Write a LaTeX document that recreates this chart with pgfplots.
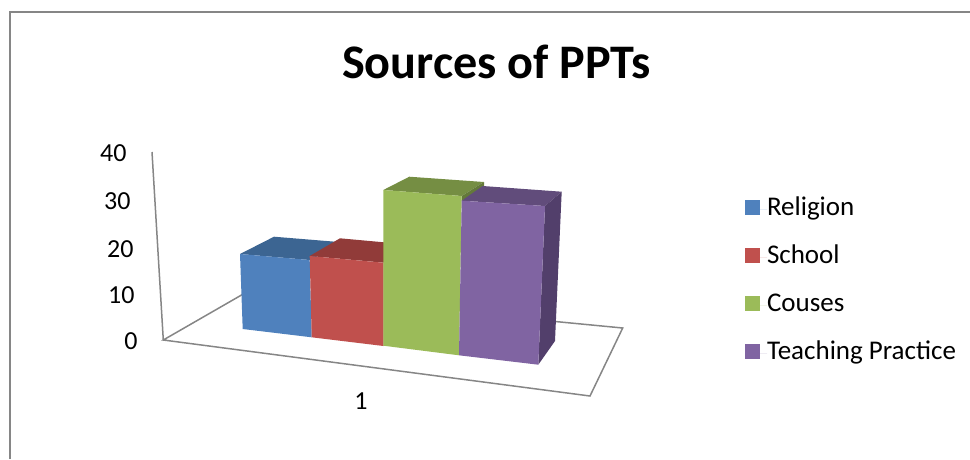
\documentclass[border=0pt]{standalone}
\usepackage{pgfplots}
\pgfplotsset{compat=1.18}
\usepackage{fontspec}
\setmainfont{Carlito}
\definecolor{frameg}{HTML}{868686}
\definecolor{bluef}{HTML}{4F81BD}\definecolor{bluet}{HTML}{3C6592}
\definecolor{redf}{HTML}{C0504D}\definecolor{redt}{HTML}{913B39}
\definecolor{greenf}{HTML}{9BBB59}\definecolor{greent}{HTML}{758E43}\definecolor{greens}{HTML}{64793A}
\definecolor{purplef}{HTML}{8064A2}\definecolor{purplet}{HTML}{614C7B}\definecolor{purples}{HTML}{523F6B}
\begin{document}
\begin{tikzpicture}
\begin{axis}[
  scale only axis, width=970pt, height=459pt,
  xmin=0, xmax=970, ymin=0, ymax=459, y dir=reverse,
  hide axis, clip=false,
  legend style={draw=none, fill=none, at={(axis cs:745,196)}, anchor=north west,
    inner sep=0pt, outer sep=0pt, row sep=22pt, font=\fontsize{27}{30}\selectfont,
    nodes={inner sep=0pt, outer sep=0pt, text height=19pt, text depth=7pt}},
  legend cell align=left,
  legend image code/.code={\fill[#1] (0pt,-5.5pt) rectangle (15pt,9.5pt);\path (0pt,0pt) -- (22pt,0pt);},
]
% frame
\addplot[frameg, line width=2pt, forget plot] coordinates {(10,459)(10,11.5)(970,11.5)};
% wall and floor
\addplot[frameg, line width=1.5pt, forget plot] coordinates {(152,152)(163.3,340)};
\addplot[frameg, line width=1.5pt, forget plot] coordinates {(245,293)(163.3,340)(590,396)(622.7,328)(550,321)};
% Religion
\addplot[fill=bluet, draw=none, forget plot] coordinates {(240,254)(274,236.7)(345,242.5)(309.7,260)} --cycle;
\addplot[fill=bluef, draw=none] coordinates {(240,254)(309.7,260)(311.7,337.3)(242.7,329)} --cycle;
\addlegendentry{Religion}
% School
\addplot[fill=redt, draw=none, forget plot] coordinates {(309.7,256)(340,238.3)(384,242.3)(384,262.7)} --cycle;
\addplot[fill=redf, draw=none] coordinates {(309.7,256)(383.5,262.7)(383.5,346)(311.7,337.3)} --cycle;
\addlegendentry{School}
% Couses
\addplot[fill=greent, draw=none, forget plot] coordinates {(383.3,190)(409.3,176.7)(484,182)(461.7,196)} --cycle;
\addplot[fill=greens, draw=none, forget plot] coordinates {(461.7,196)(484,182)(484,187)(461.7,201)} --cycle;
\addplot[fill=greenf, draw=none] coordinates {(383.3,190)(461.7,196)(459,355.3)(383.3,345.7)} --cycle;
\addlegendentry{Couses}
% Teaching Practice
\addplot[fill=purplet, draw=none, forget plot] coordinates {(461.7,200.7)(482.7,186)(561.7,191.7)(545,206)} --cycle;
\addplot[fill=purples, draw=none, forget plot] coordinates {(545,206)(561.7,191.7)(555,341)(538.3,364.7)} --cycle;
\addplot[fill=purplef, draw=none] coordinates {(461.7,200.7)(545,206)(538.3,364.7)(459,355.3)} --cycle;
\addlegendentry{Teaching Practice}
% texts
\node[font=\bfseries\fontsize{48.2}{52}\selectfont, anchor=base] at (axis cs:496.5,78) {Sources of PPTs};
\node[font=\fontsize{26}{29}\selectfont, anchor=base east] at (axis cs:130,161) {40};
\node[font=\fontsize{26}{29}\selectfont, anchor=base east] at (axis cs:134,209) {30};
\node[font=\fontsize{26}{29}\selectfont, anchor=base east] at (axis cs:137,257) {20};
\node[font=\fontsize{26}{29}\selectfont, anchor=base east] at (axis cs:138,303) {10};
\node[font=\fontsize{26}{29}\selectfont, anchor=base east] at (axis cs:141,349) {0};
\node[font=\fontsize{26}{29}\selectfont, anchor=base] at (axis cs:361,409) {1};
\end{axis}
\pgfresetboundingbox
\path[use as bounding box] (0,0) rectangle (970pt,459pt);
\end{tikzpicture}
\end{document}
